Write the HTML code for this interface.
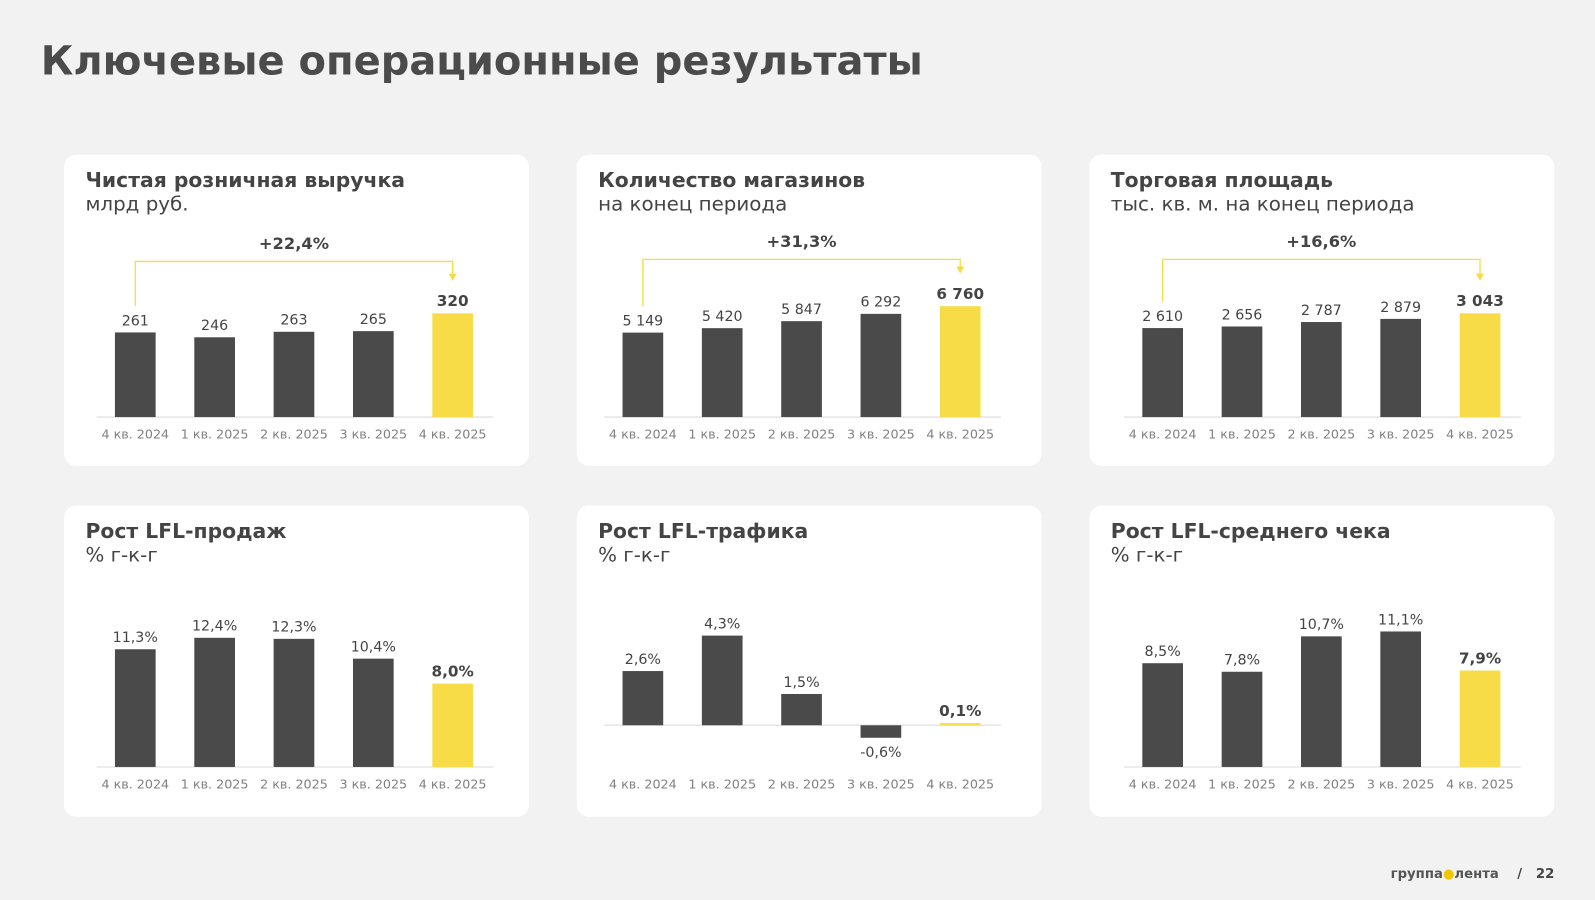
<!DOCTYPE html>
<html><head><meta charset="utf-8">
<style>
html,body{margin:0;padding:0;background:#f2f2f2;}
body{width:1595px;height:900px;overflow:hidden;font-family:"DejaVu Sans","Liberation Sans",sans-serif;}
#wrap{width:1568px;height:885px;transform:scale(1.0172);transform-origin:0 0;position:relative;}
h1{position:absolute;left:40px;top:38px;margin:0;font-size:39.3px;font-weight:bold;color:#4b4b4b;letter-spacing:0px;}
.card{position:absolute;width:457px;height:306px;background:#fff;border-radius:12px;}
.ct{position:absolute;left:21px;top:13px;font-size:20px;font-weight:bold;color:#444;}
.cs{position:absolute;left:21px;top:37px;font-size:19.5px;color:#444;}
.card svg{position:absolute;left:0;top:0;}
.foot{position:absolute;right:40px;top:852px;font-size:13px;color:#444;font-weight:bold;}
</style></head><body>
<div id="wrap">
<h1>Ключевые операционные результаты</h1>
<div id="cards"></div>
<div class="foot"><span style="font-weight:bold;color:#555;">группа<span style="color:#f2c500">●</span>лента</span>&nbsp;&nbsp;&nbsp;&nbsp;/&nbsp;&nbsp;&nbsp;22</div>
</div>
<script>
const categories=["4 кв. 2024","1 кв. 2025","2 кв. 2025","3 кв. 2025","4 кв. 2025"];
const revenue=[261,246,263,265,320];
const revenueLabels=["261","246","263","265","320"];
const stores=[5149,5420,5847,6292,6760];
const storesLabels=["5 149","5 420","5 847","6 292","6 760"];
const area=[2610,2656,2787,2879,3043];
const areaLabels=["2 610","2 656","2 787","2 879","3 043"];
const lflSales=[11.3,12.4,12.3,10.4,8.0];
const lflSalesLabels=["11,3%","12,4%","12,3%","10,4%","8,0%"];
const lflTraffic=[2.6,4.3,1.5,-0.6,0.1];
const lflTrafficLabels=["2,6%","4,3%","1,5%","-0,6%","0,1%"];
const lflCheck=[8.5,7.8,10.7,11.1,7.9];
const lflCheckLabels=["8,5%","7,8%","10,7%","11,1%","7,9%"];
const growth=["+22,4%","+31,3%","+16,6%"];

const NS="http://www.w3.org/2000/svg";
function mk(tag,attrs,parent){const e=document.createElementNS(NS,tag);for(const k in attrs)e.setAttribute(k,attrs[k]);parent.appendChild(e);return e;}
const panels=[
 {x:63,y:152,o:70,t:"Чистая розничная выручка",s:"млрд руб.",v:revenue,l:revenueLabels,base:258,scale:102/320,g:growth[0],gy:105,name:"revenue"},
 {x:567,y:152,o:65,t:"Количество магазинов",s:"на конец периода",v:stores,l:storesLabels,base:258,scale:109/6760,g:growth[1],gy:103,name:"stores"},
 {x:1071,y:152,o:72,t:"Торговая площадь",s:"тыс. кв. м. на конец периода",v:area,l:areaLabels,base:258,scale:102/3043,g:growth[2],gy:103,name:"area"},
 {x:63,y:497,o:70,t:"Рост LFL-продаж",s:"% г-к-г",v:lflSales,l:lflSalesLabels,base:257,scale:10.24,name:"lfl-sales"},
 {x:567,y:497,o:65,t:"Рост LFL-трафика",s:"% г-к-г",v:lflTraffic,l:lflTrafficLabels,base:216,scale:20.5,name:"lfl-traffic"},
 {x:1071,y:497,o:72,t:"Рост LFL-среднего чека",s:"% г-к-г",v:lflCheck,l:lflCheckLabels,base:257,scale:12,name:"lfl-check"}
];
const host=document.getElementById('cards');
panels.forEach(p=>{
 const offs=[0,1,2,3,4].map(i=>p.o+78*i);
 const c=document.createElement('div');c.className='card';c.style.left=p.x+'px';c.style.top=p.y+'px';
 
 
 host.appendChild(c);
 const t=document.createElement('div');t.className='ct';t.textContent=p.t;
 
 
 c.appendChild(t);
 const s=document.createElement('div');s.className='cs';s.textContent=p.s;
 
 
 c.appendChild(s);
 const svg=mk('svg',{width:457,height:306},c);
 const ax=mk('line',{x1:offs[0]-38,x2:offs[4]+40,y1:p.base,y2:p.base,stroke:'#e6e6e6','stroke-width':1.5},svg);
 
 
 const xlBase=p.name==='lfl-traffic'?p.base+62:p.base+21;
 p.v.forEach((v,i)=>{
  const cx=offs[i],h=Math.abs(v)*p.scale,last=i===4;
  const y=v>=0?p.base-h:p.base;
  const r=mk('rect',{x:cx-20,y:y,width:40,height:Math.max(h,1),fill:last?'#f7dc47':'#4a4a4a'},svg);
  
  
  const ly=v>=0?y-7:p.base+h+19;
  const tx=mk('text',{x:cx,y:ly,'text-anchor':'middle','font-size':last?15:14,'font-weight':last?'bold':'normal',fill:'#444'},svg);
  tx.textContent=p.l[i];
  
  
  const xl=mk('text',{x:cx,y:xlBase,'text-anchor':'middle','font-size':12.5,fill:'#808080'},svg);
  xl.textContent=categories[i];
  
  
 });
 if(p.g){
  const y0=p.base-p.v[0]*p.scale-26, y1=p.base-p.v[4]*p.scale-32;
  const br=mk('path',{d:`M${offs[0]} ${y0} V${p.gy} H${offs[4]} V${y1-6}`,fill:'none',stroke:'#f7dc47','stroke-width':1.3},svg);
  
  
  const ar=mk('path',{d:`M${offs[4]-4} ${y1-7} L${offs[4]+4} ${y1-7} L${offs[4]} ${y1}Z`,fill:'#f7dc47'},svg);
  
  
  const gt=mk('text',{x:offs[2],y:p.gy-12,'text-anchor':'middle','font-size':16,'font-weight':'bold',fill:'#444'},svg);
  gt.textContent=p.g;
  
  
 }
});
</script>
</body></html>
